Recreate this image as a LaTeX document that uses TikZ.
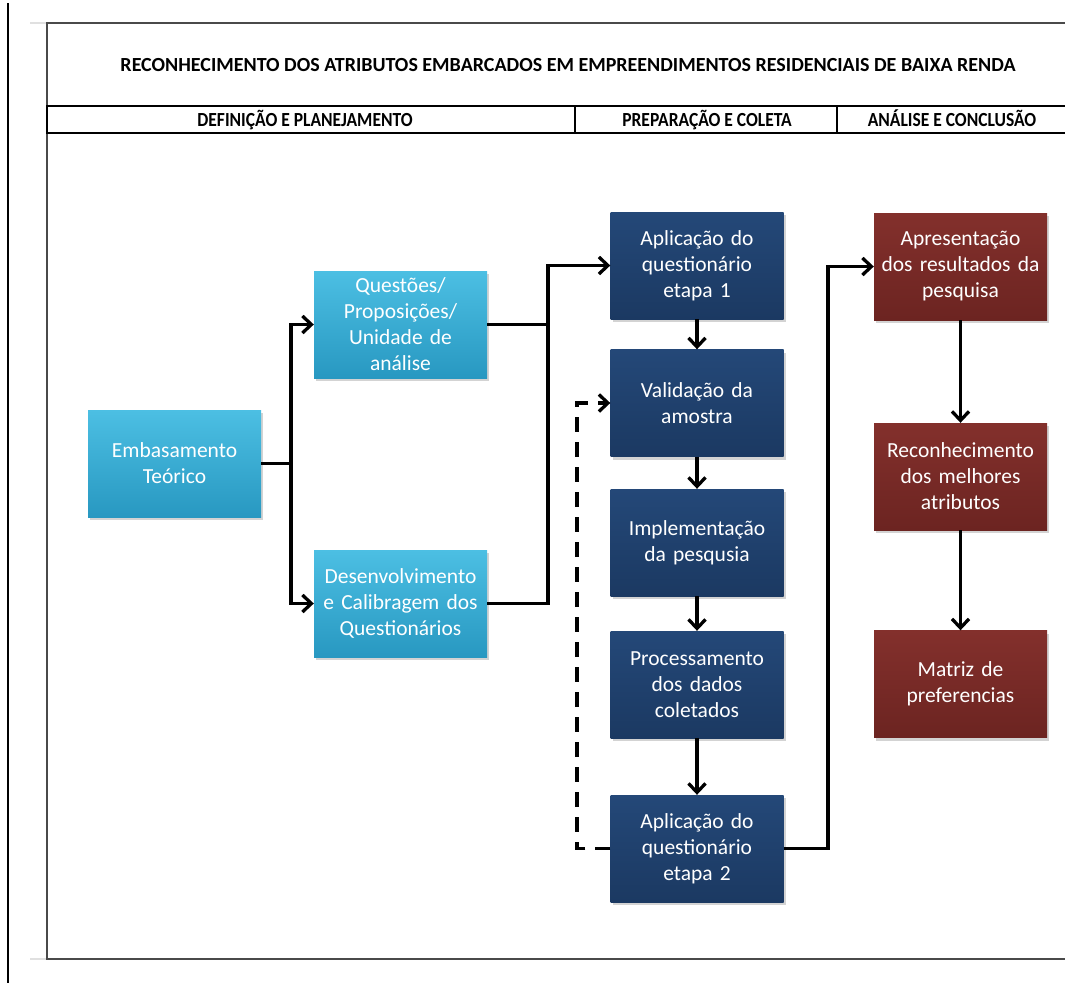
\documentclass[tikz,border=0pt]{standalone}
\usepackage{fontspec}
\usepackage{graphicx}
\setmainfont{Carlito}
\usetikzlibrary{arrows.meta,shadows}
\definecolor{cyanT}{HTML}{4CBFE3}
\definecolor{cyanB}{HTML}{2898C1}
\definecolor{navyT}{HTML}{244878}
\definecolor{navyB}{HTML}{1B3962}
\definecolor{redT}{HTML}{83302C}
\definecolor{redB}{HTML}{6C2421}
\definecolor{frameC}{HTML}{4A4A4A}
\newcommand{\hdrtext}[1]{\scalebox{0.875}[1]{#1}}
\begin{document}
\begin{tikzpicture}[x=1pt,y=-1pt,
  box/.style={draw=none, minimum width=173pt, minimum height=107pt, text width=172pt,
    align=center, inner sep=0pt, text=white, font=\fontsize{21.5}{26}\selectfont,
    drop shadow={shadow xshift=2pt,shadow yshift=-3pt,opacity=0.35}},
  cbox/.style={box, top color=cyanT, bottom color=cyanB},
  nbox/.style={box, top color=navyT, bottom color=navyB},
  rbox/.style={box, top color=redT, bottom color=redB},
  link/.style={line width=3.3pt, line join=miter},
  conn/.style={link, -{Straight Barb[length=9pt,width=17pt,line width=3.3pt]}},
  dconn/.style={conn, dash pattern=on 15pt off 10pt},
  ttl/.style={font=\bfseries\fontsize{20}{22}\selectfont, inner sep=0pt, anchor=base},
  hdr/.style={font=\bfseries\fontsize{20}{22}\selectfont, inner sep=0pt, anchor=base}
]
\useasboundingbox (0,0) rectangle (1065,985);
% page lines
\draw[line width=2pt] (8,3) -- (8,983);
\draw[line width=2pt, black!12] (30,23) -- (47,23) (30,959) -- (47,959);
\draw[line width=2pt, frameC] (1065,23) -- (47,23) -- (47,959) -- (1065,959);
% title
\node[ttl] (title) at (568,71) {RECONHECIMENTO DOS ATRIBUTOS EMBARCADOS EM EMPREENDIMENTOS RESIDENCIAIS DE BAIXA RENDA};
% header band
\draw[line width=2pt] (1065,106) -- (47,106) -- (47,133) -- (1065,133);
\draw[line width=2pt] (575,106) -- (575,133) (837,106) -- (837,133);
\node[hdr] (h1) at (305,126) {\hdrtext{DEFINIÇÃO E PLANEJAMENTO}};
\node[hdr] (h2) at (707,126) {\hdrtext{PREPARAÇÃO E COLETA}};
\node[hdr] (h3) at (952,126) {\hdrtext{ANÁLISE E CONCLUSÃO}};
% boxes
\node[cbox] (emb) at (174.5,463.5) {Embasamento\\Teórico};
\node[cbox] (ques) at (400.5,324.5) {Questões/\\Proposições/\\Unidade de\\análise};
\node[cbox] (des) at (400.5,603.5) {Desenvolvimento\\e Calibragem dos\\Questionários};
\node[nbox] (b1) at (697,265.5) {Aplicação do\\questionário\\etapa 1};
\node[nbox] (b2) at (697,403) {Validação da\\amostra};
\node[nbox] (b3) at (697,542.5) {Implementação\\da pesqusia};
\node[nbox] (b4) at (697,684.5) {Processamento\\dos dados\\coletados};
\node[nbox] (b5) at (697,848.5) {Aplicação do\\questionário\\etapa 2};
\node[rbox] (r1) at (960.5,266.5) {Apresentação\\dos resultados da\\pesquisa};
\node[rbox] (r2) at (960.5,476.5) {Reconhecimento\\dos melhores\\atributos};
\node[rbox] (r3) at (960.5,684) {Matriz de\\preferencias};
% junction coordinates
\coordinate (t) at (291,0);
\coordinate (m) at (548,0);
\coordinate (n) at (828,0);
\coordinate (f) at (577,0);
% connectors
\draw[conn] (emb.east) -- (t |- emb.east) |- (ques.west);
\draw[conn] (t |- emb.east) |- (des.west);
\draw[link] (ques.east) -- (m |- ques.east);
\draw[conn] (des.east) -| (m |- b1.west) -- (b1.west);
\draw[conn] (b1.south) -- (b2.north);
\draw[conn] (b2.south) -- (b3.north);
\draw[conn] (b3.south) -- (b4.north);
\draw[conn] (b4.south) -- (b5.north);
\draw[dconn] (b5.west) -| (f |- b2.west) -- (b2.west);
\draw[conn] (b5.east) -| (n |- r1.west) -- (r1.west);
\draw[conn] (r1.south) -- (r2.north);
\draw[conn] (r2.south) -- (r3.north);
\end{tikzpicture}
\end{document}
